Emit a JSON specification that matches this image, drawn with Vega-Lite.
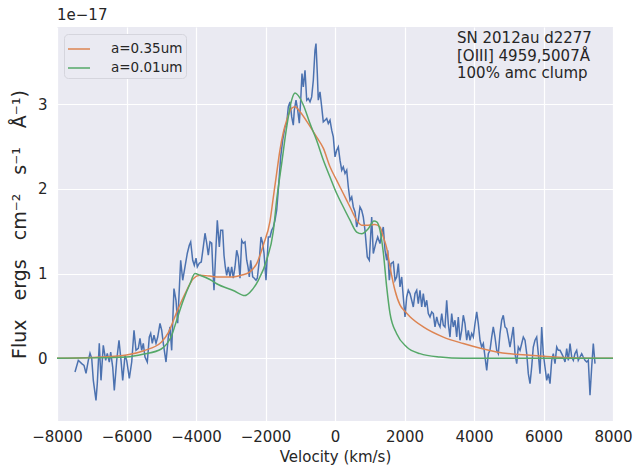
{
  "$schema": "https://vega.github.io/schema/vega-lite/v6.json",
  "width": 556,
  "height": 394,
  "autosize": {"type": "none"},
  "padding": {"left": 57, "top": 27, "right": 27, "bottom": 46},
  "background": "white",
  "config": {
    "font": "DejaVu Sans",
    "view": {"fill": "#EAEAF2", "stroke": null},
    "axis": {"domain": false, "ticks": false, "grid": true, "gridColor": "white", "gridWidth": 1.2, "labelFont": "DejaVu Sans", "labelFontSize": 15, "labelColor": "#262626", "titleFont": "DejaVu Sans", "titleFontSize": 15, "titleColor": "#262626", "titleFontWeight": "normal"}
  },
  "title": {"text": "1e−17", "anchor": "start", "frame": "group", "fontSize": 15, "fontWeight": "normal", "color": "#262626", "offset": 4},
  "datasets": {
    "obs": [
      {"v": -7482, "f": -0.162}, {"v": -7387, "f": -0.024}, {"v": -7289, "f": -0.063}, {"v": -7223, "f": -0.083}, {"v": -7165, "f": -0.177}, {"v": -7099, "f": -0.024}, {"v": -7050, "f": 0.059}, {"v": -7001, "f": 0.0}, {"v": -6955, "f": -0.26}, {"v": -6878, "f": -0.496}, {"v": -6840, "f": -0.295}, {"v": -6783, "f": 0.177}, {"v": -6734, "f": -0.26}, {"v": -6668, "f": 0.153}, {"v": -6599, "f": -0.024}, {"v": -6553, "f": 0.059}, {"v": -6495, "f": -0.044}, {"v": -6455, "f": 0.074}, {"v": -6397, "f": -0.103}, {"v": -6351, "f": -0.378}, {"v": -6282, "f": -0.024}, {"v": -6216, "f": 0.213}, {"v": -6158, "f": -0.024}, {"v": -6109, "f": -0.26}, {"v": -6043, "f": 0.035}, {"v": -5994, "f": -0.024}, {"v": -5919, "f": -0.236}, {"v": -5850, "f": -0.044}, {"v": -5784, "f": 0.331}, {"v": -5727, "f": 0.094}, {"v": -5660, "f": 0.118}, {"v": -5612, "f": 0.236}, {"v": -5563, "f": 0.094}, {"v": -5517, "f": 0.177}, {"v": -5468, "f": 0.015}, {"v": -5401, "f": -0.044}, {"v": -5344, "f": 0.251}, {"v": -5304, "f": 0.295}, {"v": -5258, "f": 0.177}, {"v": -5209, "f": 0.272}, {"v": -5151, "f": 0.177}, {"v": -5102, "f": 0.251}, {"v": -5036, "f": 0.413}, {"v": -4987, "f": 0.331}, {"v": -4941, "f": 0.177}, {"v": -4863, "f": -0.044}, {"v": -4797, "f": 0.251}, {"v": -4748, "f": 0.37}, {"v": -4700, "f": 0.094}, {"v": -4634, "f": 0.823}, {"v": -4576, "f": 0.685}, {"v": -4527, "f": 0.413}, {"v": -4441, "f": 1.157}, {"v": -4383, "f": 0.921}, {"v": -4317, "f": 1.078}, {"v": -4250, "f": 1.24}, {"v": -4193, "f": 1.334}, {"v": -4153, "f": 1.373}, {"v": -4095, "f": 1.157}, {"v": -4049, "f": 1.098}, {"v": -4000, "f": 1.181}, {"v": -3963, "f": 1.078}, {"v": -3905, "f": 1.122}, {"v": -3848, "f": 1.137}, {"v": -3790, "f": 1.314}, {"v": -3741, "f": 1.476}, {"v": -3692, "f": 1.358}, {"v": -3646, "f": 1.216}, {"v": -3597, "f": 1.373}, {"v": -3548, "f": 1.358}, {"v": -3519, "f": 1.078}, {"v": -3482, "f": 0.803}, {"v": -3433, "f": 1.24}, {"v": -3387, "f": 1.629}, {"v": -3329, "f": 1.314}, {"v": -3289, "f": 1.511}, {"v": -3232, "f": 1.511}, {"v": -3194, "f": 1.216}, {"v": -3157, "f": 1.078}, {"v": -3117, "f": 0.98}, {"v": -3071, "f": 1.078}, {"v": -3022, "f": 0.96}, {"v": -2973, "f": 1.078}, {"v": -2927, "f": 0.945}, {"v": -2878, "f": 1.078}, {"v": -2829, "f": 1.275}, {"v": -2783, "f": 1.196}, {"v": -2734, "f": 0.945}, {"v": -2685, "f": 1.393}, {"v": -2639, "f": 1.358}, {"v": -2590, "f": 1.373}, {"v": -2541, "f": 1.157}, {"v": -2504, "f": 1.078}, {"v": -2466, "f": 0.96}, {"v": -2426, "f": 1.157}, {"v": -2368, "f": 0.96}, {"v": -2322, "f": 0.945}, {"v": -2273, "f": 0.921}, {"v": -2236, "f": 0.945}, {"v": -2178, "f": 1.157}, {"v": -2130, "f": 1.432}, {"v": -2081, "f": 1.358}, {"v": -2043, "f": 1.24}, {"v": -1986, "f": 0.921}, {"v": -1919, "f": 1.432}, {"v": -1870, "f": 1.432}, {"v": -1822, "f": 1.511}, {"v": -1775, "f": 1.55}, {"v": -1727, "f": 1.629}, {"v": -1678, "f": 1.747}, {"v": -1632, "f": 1.983}, {"v": -1563, "f": 2.377}, {"v": -1505, "f": 2.574}, {"v": -1439, "f": 2.731}, {"v": -1390, "f": 2.774}, {"v": -1344, "f": 2.967}, {"v": -1295, "f": 3.026}, {"v": -1246, "f": 2.849}, {"v": -1200, "f": 2.751}, {"v": -1171, "f": 2.928}, {"v": -1122, "f": 3.046}, {"v": -1073, "f": 2.928}, {"v": -1027, "f": 2.774}, {"v": -987, "f": 3.046}, {"v": -950, "f": 3.361}, {"v": -912, "f": 3.203}, {"v": -863, "f": 3.4}, {"v": -814, "f": 3.046}, {"v": -768, "f": 3.066}, {"v": -719, "f": 3.026}, {"v": -671, "f": 3.085}, {"v": -624, "f": 3.282}, {"v": -576, "f": 3.636}, {"v": -547, "f": 3.715}, {"v": -509, "f": 3.361}, {"v": -481, "f": 3.046}, {"v": -432, "f": 3.144}, {"v": -383, "f": 2.967}, {"v": -337, "f": 2.79}, {"v": -288, "f": 2.81}, {"v": -239, "f": 2.83}, {"v": -193, "f": 2.771}, {"v": -144, "f": 2.81}, {"v": -95, "f": 2.692}, {"v": -49, "f": 2.613}, {"v": 0, "f": 2.377}, {"v": 49, "f": 2.456}, {"v": 95, "f": 2.495}, {"v": 144, "f": 2.338}, {"v": 193, "f": 2.22}, {"v": 239, "f": 2.259}, {"v": 288, "f": 2.181}, {"v": 337, "f": 2.22}, {"v": 383, "f": 2.022}, {"v": 432, "f": 1.865}, {"v": 481, "f": 1.904}, {"v": 527, "f": 1.786}, {"v": 576, "f": 1.727}, {"v": 624, "f": 1.55}, {"v": 671, "f": 1.629}, {"v": 719, "f": 1.786}, {"v": 768, "f": 1.747}, {"v": 814, "f": 1.668}, {"v": 863, "f": 1.511}, {"v": 929, "f": 1.196}, {"v": 987, "f": 1.157}, {"v": 1056, "f": 1.668}, {"v": 1102, "f": 1.236}, {"v": 1171, "f": 1.354}, {"v": 1229, "f": 1.432}, {"v": 1295, "f": 1.354}, {"v": 1344, "f": 1.472}, {"v": 1390, "f": 1.55}, {"v": 1439, "f": 1.275}, {"v": 1488, "f": 1.157}, {"v": 1517, "f": 1.275}, {"v": 1563, "f": 0.921}, {"v": 1612, "f": 1.118}, {"v": 1678, "f": 1.137}, {"v": 1727, "f": 0.921}, {"v": 1775, "f": 0.96}, {"v": 1822, "f": 1.118}, {"v": 1870, "f": 0.842}, {"v": 1919, "f": 0.96}, {"v": 1965, "f": 0.724}, {"v": 2014, "f": 0.488}, {"v": 2063, "f": 0.724}, {"v": 2109, "f": 0.803}, {"v": 2158, "f": 0.764}, {"v": 2207, "f": 0.685}, {"v": 2253, "f": 0.606}, {"v": 2302, "f": 0.764}, {"v": 2351, "f": 0.803}, {"v": 2397, "f": 0.646}, {"v": 2446, "f": 0.803}, {"v": 2495, "f": 0.606}, {"v": 2541, "f": 0.764}, {"v": 2590, "f": 0.606}, {"v": 2639, "f": 0.685}, {"v": 2685, "f": 0.528}, {"v": 2734, "f": 0.488}, {"v": 2783, "f": 0.547}, {"v": 2829, "f": 0.528}, {"v": 2878, "f": 0.37}, {"v": 2927, "f": 0.488}, {"v": 2973, "f": 0.41}, {"v": 3022, "f": 0.37}, {"v": 3071, "f": 0.528}, {"v": 3117, "f": 0.39}, {"v": 3165, "f": 0.37}, {"v": 3214, "f": 0.685}, {"v": 3260, "f": 0.41}, {"v": 3309, "f": 0.251}, {"v": 3358, "f": 0.528}, {"v": 3404, "f": 0.37}, {"v": 3453, "f": 0.449}, {"v": 3502, "f": 0.251}, {"v": 3548, "f": 0.488}, {"v": 3597, "f": 0.213}, {"v": 3646, "f": 0.331}, {"v": 3692, "f": 0.508}, {"v": 3741, "f": 0.41}, {"v": 3790, "f": 0.213}, {"v": 3836, "f": 0.331}, {"v": 3885, "f": 0.213}, {"v": 3934, "f": 0.292}, {"v": 3980, "f": 0.251}, {"v": 4029, "f": 0.41}, {"v": 4078, "f": 0.547}, {"v": 4124, "f": 0.41}, {"v": 4173, "f": 0.213}, {"v": 4222, "f": 0.133}, {"v": 4268, "f": 0.174}, {"v": 4317, "f": 0.015}, {"v": 4366, "f": -0.142}, {"v": 4412, "f": 0.055}, {"v": 4460, "f": 0.094}, {"v": 4509, "f": 0.251}, {"v": 4555, "f": 0.37}, {"v": 4604, "f": 0.251}, {"v": 4653, "f": 0.094}, {"v": 4699, "f": 0.055}, {"v": 4748, "f": 0.292}, {"v": 4797, "f": 0.449}, {"v": 4843, "f": 0.508}, {"v": 4892, "f": 0.37}, {"v": 4941, "f": 0.351}, {"v": 4987, "f": 0.251}, {"v": 5036, "f": 0.133}, {"v": 5085, "f": 0.251}, {"v": 5131, "f": 0.37}, {"v": 5180, "f": 0.055}, {"v": 5229, "f": -0.063}, {"v": 5275, "f": 0.133}, {"v": 5324, "f": 0.094}, {"v": 5373, "f": 0.174}, {"v": 5419, "f": 0.251}, {"v": 5468, "f": 0.213}, {"v": 5517, "f": 0.055}, {"v": 5563, "f": -0.181}, {"v": 5612, "f": -0.299}, {"v": 5660, "f": -0.103}, {"v": 5706, "f": 0.133}, {"v": 5755, "f": 0.213}, {"v": 5804, "f": 0.251}, {"v": 5850, "f": 0.055}, {"v": 5899, "f": -0.181}, {"v": 5948, "f": 0.37}, {"v": 5994, "f": 0.055}, {"v": 6043, "f": -0.103}, {"v": 6092, "f": -0.26}, {"v": 6138, "f": -0.181}, {"v": 6187, "f": -0.299}, {"v": 6236, "f": -0.024}, {"v": 6282, "f": 0.055}, {"v": 6331, "f": -0.063}, {"v": 6380, "f": 0.133}, {"v": 6426, "f": 0.094}, {"v": 6475, "f": 0.094}, {"v": 6524, "f": 0.055}, {"v": 6570, "f": 0.015}, {"v": 6619, "f": -0.044}, {"v": 6668, "f": 0.115}, {"v": 6714, "f": -0.024}, {"v": 6763, "f": 0.174}, {"v": 6812, "f": 0.015}, {"v": 6858, "f": -0.024}, {"v": 6906, "f": 0.055}, {"v": 6955, "f": 0.094}, {"v": 7001, "f": -0.024}, {"v": 7050, "f": 0.015}, {"v": 7099, "f": 0.055}, {"v": 7145, "f": 0.015}, {"v": 7194, "f": -0.024}, {"v": 7243, "f": -0.044}, {"v": 7289, "f": -0.024}, {"v": 7338, "f": -0.437}, {"v": 7387, "f": -0.103}, {"v": 7433, "f": 0.174}, {"v": 7482, "f": -0.063}
    ],
    "models": [
      {"m": "a=0.35um", "v": -8000, "f": 0.0}, {"m": "a=0.35um", "v": -7000, "f": 0.01}, {"m": "a=0.35um", "v": -6000, "f": 0.04}, {"m": "a=0.35um", "v": -5500, "f": 0.09}, {"m": "a=0.35um", "v": -5000, "f": 0.19}, {"m": "a=0.35um", "v": -4800, "f": 0.3}, {"m": "a=0.35um", "v": -4550, "f": 0.55}, {"m": "a=0.35um", "v": -4270, "f": 0.8}, {"m": "a=0.35um", "v": -4080, "f": 0.94}, {"m": "a=0.35um", "v": -3890, "f": 0.98}, {"m": "a=0.35um", "v": -3600, "f": 0.97}, {"m": "a=0.35um", "v": -3400, "f": 0.96}, {"m": "a=0.35um", "v": -2930, "f": 0.96}, {"m": "a=0.35um", "v": -2700, "f": 0.98}, {"m": "a=0.35um", "v": -2450, "f": 1.02}, {"m": "a=0.35um", "v": -2250, "f": 1.12}, {"m": "a=0.35um", "v": -2060, "f": 1.34}, {"m": "a=0.35um", "v": -1870, "f": 1.62}, {"m": "a=0.35um", "v": -1775, "f": 1.9}, {"m": "a=0.35um", "v": -1680, "f": 2.18}, {"m": "a=0.35um", "v": -1583, "f": 2.46}, {"m": "a=0.35um", "v": -1490, "f": 2.66}, {"m": "a=0.35um", "v": -1390, "f": 2.81}, {"m": "a=0.35um", "v": -1246, "f": 2.95}, {"m": "a=0.35um", "v": -1150, "f": 2.97}, {"m": "a=0.35um", "v": -1007, "f": 2.91}, {"m": "a=0.35um", "v": -770, "f": 2.77}, {"m": "a=0.35um", "v": -527, "f": 2.61}, {"m": "a=0.35um", "v": -337, "f": 2.48}, {"m": "a=0.35um", "v": -144, "f": 2.26}, {"m": "a=0.35um", "v": 49, "f": 2.1}, {"m": "a=0.35um", "v": 239, "f": 1.945}, {"m": "a=0.35um", "v": 432, "f": 1.786}, {"m": "a=0.35um", "v": 624, "f": 1.63}, {"m": "a=0.35um", "v": 768, "f": 1.57}, {"m": "a=0.35um", "v": 958, "f": 1.57}, {"m": "a=0.35um", "v": 1150, "f": 1.58}, {"m": "a=0.35um", "v": 1295, "f": 1.55}, {"m": "a=0.35um", "v": 1390, "f": 1.43}, {"m": "a=0.35um", "v": 1488, "f": 1.3}, {"m": "a=0.35um", "v": 1583, "f": 1.08}, {"m": "a=0.35um", "v": 1727, "f": 0.8}, {"m": "a=0.35um", "v": 1870, "f": 0.63}, {"m": "a=0.35um", "v": 2000, "f": 0.56}, {"m": "a=0.35um", "v": 2158, "f": 0.49}, {"m": "a=0.35um", "v": 2541, "f": 0.37}, {"m": "a=0.35um", "v": 3117, "f": 0.25}, {"m": "a=0.35um", "v": 3692, "f": 0.174}, {"m": "a=0.35um", "v": 4653, "f": 0.075}, {"m": "a=0.35um", "v": 5612, "f": 0.035}, {"m": "a=0.35um", "v": 6570, "f": 0.01}, {"m": "a=0.35um", "v": 7500, "f": 0.0}, {"m": "a=0.35um", "v": 8000, "f": 0.0},
      {"m": "a=0.01um", "v": -8000, "f": 0.0}, {"m": "a=0.01um", "v": -7000, "f": 0.005}, {"m": "a=0.01um", "v": -6000, "f": 0.015}, {"m": "a=0.01um", "v": -5500, "f": 0.05}, {"m": "a=0.01um", "v": -5000, "f": 0.11}, {"m": "a=0.01um", "v": -4840, "f": 0.17}, {"m": "a=0.01um", "v": -4700, "f": 0.27}, {"m": "a=0.01um", "v": -4556, "f": 0.45}, {"m": "a=0.01um", "v": -4365, "f": 0.685}, {"m": "a=0.01um", "v": -4173, "f": 0.88}, {"m": "a=0.01um", "v": -4029, "f": 1.0}, {"m": "a=0.01um", "v": -3885, "f": 0.98}, {"m": "a=0.01um", "v": -3600, "f": 0.93}, {"m": "a=0.01um", "v": -3405, "f": 0.88}, {"m": "a=0.01um", "v": -2927, "f": 0.8}, {"m": "a=0.01um", "v": -2590, "f": 0.74}, {"m": "a=0.01um", "v": -2446, "f": 0.78}, {"m": "a=0.01um", "v": -2207, "f": 0.92}, {"m": "a=0.01um", "v": -1966, "f": 1.16}, {"m": "a=0.01um", "v": -1775, "f": 1.5}, {"m": "a=0.01um", "v": -1678, "f": 1.87}, {"m": "a=0.01um", "v": -1534, "f": 2.3}, {"m": "a=0.01um", "v": -1390, "f": 2.73}, {"m": "a=0.01um", "v": -1246, "f": 3.05}, {"m": "a=0.01um", "v": -1151, "f": 3.13}, {"m": "a=0.01um", "v": -1056, "f": 3.1}, {"m": "a=0.01um", "v": -912, "f": 2.99}, {"m": "a=0.01um", "v": -719, "f": 2.77}, {"m": "a=0.01um", "v": -527, "f": 2.57}, {"m": "a=0.01um", "v": -337, "f": 2.34}, {"m": "a=0.01um", "v": -144, "f": 2.14}, {"m": "a=0.01um", "v": 49, "f": 1.945}, {"m": "a=0.01um", "v": 239, "f": 1.786}, {"m": "a=0.01um", "v": 432, "f": 1.63}, {"m": "a=0.01um", "v": 624, "f": 1.49}, {"m": "a=0.01um", "v": 768, "f": 1.47}, {"m": "a=0.01um", "v": 958, "f": 1.53}, {"m": "a=0.01um", "v": 1122, "f": 1.62}, {"m": "a=0.01um", "v": 1200, "f": 1.61}, {"m": "a=0.01um", "v": 1295, "f": 1.51}, {"m": "a=0.01um", "v": 1390, "f": 1.25}, {"m": "a=0.01um", "v": 1488, "f": 0.84}, {"m": "a=0.01um", "v": 1583, "f": 0.53}, {"m": "a=0.01um", "v": 1775, "f": 0.29}, {"m": "a=0.01um", "v": 2063, "f": 0.133}, {"m": "a=0.01um", "v": 2446, "f": 0.055}, {"m": "a=0.01um", "v": 3022, "f": 0.015}, {"m": "a=0.01um", "v": 3692, "f": 0.0}, {"m": "a=0.01um", "v": 8000, "f": 0.0}
    ],
    "note": [
      {"v": 3511, "f": 3.78, "t": ["SN 2012au d2277", "[OIII] 4959,5007Å", "100% amc clump"]}
    ]
  },
  "encoding": {
    "x": {"field": "v", "type": "quantitative", "scale": {"domain": [-8000, 8000], "nice": false, "zero": false}, "axis": {"values": [-8000, -6000, -4000, -2000, 0, 2000, 4000, 6000, 8000], "format": "d", "title": "Velocity (km/s)", "labelPadding": 8, "titlePadding": 5, "labelFlush": false}},
    "y": {"field": "f", "type": "quantitative", "scale": {"domain": [-0.74, 3.91], "nice": false, "zero": false}, "axis": {"values": [0, 1, 2, 3], "title": "Flux\u2003ergs\u2003cm⁻²\u2003s⁻¹\u2003Å⁻¹)", "titleFontSize": 19, "labelPadding": 10, "titlePadding": 8}}
  },
  "layer": [
    {
      "data": {"name": "obs"},
      "mark": {"type": "line", "color": "#4C72B0", "strokeWidth": 1.5, "clip": true}
    },
    {
      "data": {"name": "models"},
      "mark": {"type": "line", "strokeWidth": 1.5, "clip": true, "interpolate": "monotone"},
      "encoding": {
        "color": {"field": "m", "type": "nominal", "sort": ["a=0.35um", "a=0.01um"], "scale": {"domain": ["a=0.35um", "a=0.01um"], "range": ["#DD8452", "#55A868"]},
          "legend": {"title": null, "orient": "top-left", "offset": 7, "symbolType": "stroke", "symbolSize": 484, "symbolStrokeWidth": 1.5, "labelFontSize": 13.5, "labelColor": "#262626", "labelFont": "DejaVu Sans", "fillColor": "#EAEAF2", "strokeColor": "#D5D5DD", "cornerRadius": 4, "padding": 3, "rowPadding": -1, "labelOffset": 20}},
        "detail": {"field": "m"}
      }
    },
    {
      "data": {"name": "note"},
      "mark": {"type": "text", "align": "left", "baseline": "middle", "fontSize": 15, "color": "#262626", "lineHeight": 17.5, "font": "DejaVu Sans"},
      "encoding": {"text": {"field": "t"}}
    }
  ]
}
